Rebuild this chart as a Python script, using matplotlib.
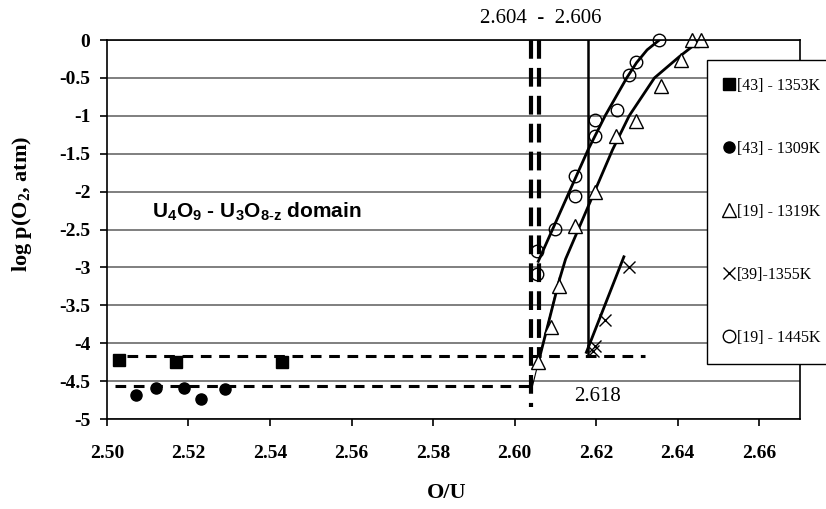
import matplotlib
matplotlib.use('Agg')
import matplotlib.pyplot as plt

plt.rcParams['font.family'] = ['Liberation Serif', 'DejaVu Serif']
plt.rcParams['axes.unicode_minus'] = False
plt.rcParams['mathtext.fontset'] = 'custom'
plt.rcParams['mathtext.rm'] = 'Liberation Serif'
plt.rcParams['mathtext.bf'] = 'Liberation Serif:bold'
plt.rcParams['mathtext.sf'] = 'Liberation Sans:bold'

# [43] - 1353K
sq_x = [2.503, 2.517, 2.543]
sq_y = [-4.22, -4.25, -4.25]
# [43] - 1309K
fc_x = [2.507, 2.512, 2.519, 2.523, 2.529]
fc_y = [-4.68, -4.59, -4.59, -4.74, -4.61]
# [19] - 1319K
tri_x = [2.6058, 2.609, 2.611, 2.6148, 2.6197, 2.6249, 2.6297, 2.6358, 2.6407, 2.6435, 2.6456]
tri_y = [-4.25, -3.79, -3.25, -2.46, -2.01, -1.26, -1.07, -0.61, -0.26, 0.0, 0.0]
# [39]-1355K
cr_x = [2.6192, 2.6197, 2.6222, 2.6281]
cr_y = [-4.10, -4.04, -3.70, -2.99]
# [19] - 1445K
oc_x = [2.6056, 2.6056, 2.6099, 2.6148, 2.6148, 2.6197, 2.6197, 2.625, 2.628, 2.6298, 2.6355]
oc_y = [-3.09, -2.79, -2.49, -2.06, -1.79, -1.26, -1.05, -0.92, -0.46, -0.29, 0.0]

# hand drawn fit curves
oc_fit_x = [2.6058, 2.618, 2.6222, 2.6275, 2.6299, 2.6325, 2.6355]
oc_fit_y = [-2.92, -1.45, -1.0, -0.5, -0.3, -0.13, 0.0]
tri_fit_x = [2.6056, 2.611, 2.6125, 2.624, 2.6281, 2.6343, 2.6404, 2.6456]
tri_fit_y = [-4.30, -3.16, -2.89, -1.45, -1.0, -0.5, -0.22, 0.0]
thin_fit_x = [2.6044, 2.611]
thin_fit_y = [-4.56, -3.13]
cr_fit_x = [2.6176, 2.6268]
cr_fit_y = [-4.12, -2.86]

# phase boundary guides
v_dash = [2.604, 2.606]
v_dash_bottom = [-4.84, -4.2]
v_solid = 2.618
v_solid_bottom = -4.17
h_dash_y = [-4.175, -4.56]
h_dash_x0 = [2.505, 2.502]
h_dash_x1 = [2.632, 2.604]

xticks = [2.50, 2.52, 2.54, 2.56, 2.58, 2.60, 2.62, 2.64, 2.66]
yticks = [0, -0.5, -1, -1.5, -2, -2.5, -3, -3.5, -4, -4.5, -5]
ylabels = ['0', '-0.5', '-1', '-1.5', '-2', '-2.5', '-3', '-3.5', '-4', '-4.5', '-5']

fig = plt.figure(figsize=(8.26, 5.09), dpi=100)
ax = fig.add_axes([0.1295, 0.1768, 0.8390, 0.7446])

ax.set_xlim(2.50, 2.67)
ax.set_ylim(-5, 0)
ax.set_xticks(xticks)
ax.set_xticklabels(['%.2f' % v for v in xticks])
ax.set_yticks(yticks)
ax.set_yticklabels(ylabels)
ax.yaxis.grid(True, color='#7f7f7f', lw=1.4)
ax.set_axisbelow(True)
for s in ax.spines.values():
    s.set_color('black')
    s.set_linewidth(1.2)
ax.tick_params(direction='out', length=5, width=1.2, labelsize=14)
ax.tick_params(axis='x', pad=14)
ax.tick_params(axis='y', pad=7)
plt.setp(ax.get_xticklabels() + ax.get_yticklabels(), fontweight='bold')

ax.set_xlabel('O/U', fontsize=16, fontweight='bold')
ax.xaxis.set_label_coords(0.49, -0.17)
ax.set_ylabel(r'log p(O$_\mathbf{2}$, atm)', fontsize=16, fontweight='bold')
ax.yaxis.set_label_coords(-0.106, 0.567)

# guide lines
for x, yb in zip(v_dash, v_dash_bottom):
    ax.plot([x, x], [0, yb], color='black', lw=3, dashes=(4.5, 2.2), clip_on=False)
ax.plot([v_solid, v_solid], [0, v_solid_bottom], color='black', lw=1.8)
for y, x0, x1 in zip(h_dash_y, h_dash_x0, h_dash_x1):
    ax.plot([x0, x1], [y, y], color='black', lw=2.2, dashes=(3.5, 2.5))

# fit curves
ax.plot(oc_fit_x, oc_fit_y, color='black', lw=2)
ax.plot(tri_fit_x, tri_fit_y, color='black', lw=2)
ax.plot(thin_fit_x, thin_fit_y, color='black', lw=0.8)
ax.plot(cr_fit_x, cr_fit_y, color='black', lw=2)

# data
h1, = ax.plot(sq_x, sq_y, 's', color='black', ms=8, label='[43] - 1353K', clip_on=False)
h2, = ax.plot(fc_x, fc_y, 'o', color='black', ms=8, label='[43] - 1309K')
h3, = ax.plot(tri_x, tri_y, '^', mfc='white', mec='black', mew=1, ms=10,
              label='[19] - 1319K', clip_on=False)
h4, = ax.plot(cr_x, cr_y, 'x', color='black', mew=1, ms=9, label='[39]-1355K')
h5, = ax.plot(oc_x, oc_y, 'o', mfc='none', mec='black', mew=1, ms=9,
              label='[19] - 1445K', clip_on=False)

ax.text(2.6064, 0.29, '2.604  -  2.606', fontsize=15, ha='center', va='center')
ax.text(2.6203, -4.70, '2.618', fontsize=15, ha='center', va='center')
ax.text(2.511, -2.26, r'U$_\mathsf{4}$O$_\mathsf{9}$ - U$_\mathsf{3}$O$_\mathsf{8\text{-}z}$ domain',
        fontsize=15, fontweight='bold', family='Liberation Sans', ha='left', va='center')

leg = ax.legend(handles=[h1, h2, h3, h4, h5], loc='upper left',
                bbox_to_anchor=(707 / 826, 1 - 60 / 509), bbox_transform=fig.transFigure,
                fontsize=11.5, frameon=True, fancybox=False, edgecolor='black',
                framealpha=1, labelspacing=2.95, borderpad=1.1, handlelength=0.5,
                handletextpad=0.3, borderaxespad=0, markerscale=1.0)
leg.get_frame().set_linewidth(1)

fig.savefig('out.png', dpi=100)
